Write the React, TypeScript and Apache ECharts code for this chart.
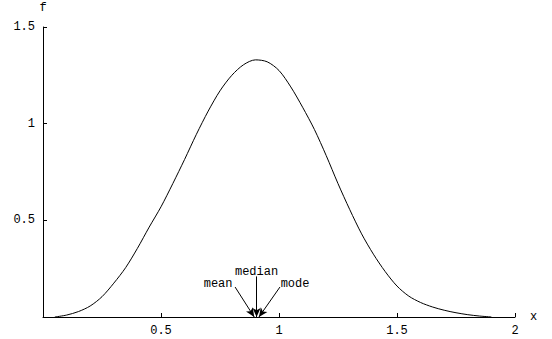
import React, { useEffect, useRef } from "react";
import * as echarts from "echarts";

const xs = [0.05, 0.1, 0.15, 0.2, 0.25, 0.3, 0.35, 0.4, 0.45, 0.5, 0.55, 0.6, 0.65, 0.7, 0.75, 0.8, 0.85, 0.9, 0.95, 1.0, 1.05, 1.1, 1.15, 1.2, 1.25, 1.3, 1.35, 1.4, 1.45, 1.5, 1.55, 1.6, 1.65, 1.7, 1.75, 1.8, 1.85, 1.9];
const fs = [0, 0.01, 0.028, 0.057, 0.105, 0.175, 0.255, 0.355, 0.465, 0.57, 0.69, 0.815, 0.945, 1.065, 1.17, 1.25, 1.305, 1.33, 1.32, 1.275, 1.19, 1.085, 0.97, 0.835, 0.69, 0.555, 0.43, 0.325, 0.235, 0.16, 0.108, 0.075, 0.052, 0.035, 0.022, 0.012, 0.005, 0];

const statNames = ["mean", "median", "mode"];
const statValues = [0.895, 0.905, 0.915];
// label anchor points (data coords) for each annotation
const labelX = [0.742, 0.905, 1.068];
const labelY = [0.17, 0.232, 0.17];
// arrow start points (data coords)
const arrowStartX = [0.814, 0.905, 1.004];
const arrowStartY = [0.155, 0.21, 0.155];

const xTicks = [0, 0.5, 1, 1.5, 2];
const yTicks = [0, 0.5, 1, 1.5];

const FONT = "'Liberation Mono', 'DejaVu Sans Mono', monospace";

export default function App() {
  const ref = useRef<HTMLDivElement>(null);
  useEffect(() => {
    const chart = echarts.init(ref.current!, null, { renderer: "svg" });
    const fmt = (v: number) => (v === 0 ? "" : String(v));
    chart.setOption({
      animation: false,
      backgroundColor: "#ffffff",
      grid: { left: 43, right: 37, top: 27, bottom: 22, containLabel: false },
      xAxis: {
        type: "value",
        min: xTicks[0],
        max: xTicks[xTicks.length - 1],
        interval: 0.5,
        name: "x",
        nameLocation: "end",
        nameGap: 15,
        nameTextStyle: { fontFamily: FONT, fontSize: 12, color: "#000", verticalAlign: "middle" },
        axisLine: { show: true, onZero: false, lineStyle: { color: "#000", width: 1 } },
        axisTick: { show: true, inside: true, length: 4, lineStyle: { color: "#000" } },
        axisLabel: { formatter: fmt, fontFamily: FONT, fontSize: 12, color: "#000", margin: 8 },
        splitLine: { show: false },
      },
      yAxis: {
        type: "value",
        min: yTicks[0],
        max: yTicks[yTicks.length - 1],
        interval: 0.5,
        name: "f",
        nameLocation: "end",
        nameGap: 13,
        nameTextStyle: { fontFamily: FONT, fontSize: 12, color: "#000", align: "center" },
        axisLine: { show: true, onZero: false, lineStyle: { color: "#000", width: 1 } },
        axisTick: { show: true, inside: true, length: 4, lineStyle: { color: "#000" } },
        axisLabel: { formatter: fmt, fontFamily: FONT, fontSize: 12, color: "#000", margin: 8 },
        splitLine: { show: false },
      },
      series: [
        {
          type: "line",
          data: xs.map((x, i) => [x, fs[i]]),
          smooth: 0.3,
          showSymbol: false,
          lineStyle: { color: "#000", width: 1 },
          markLine: {
            silent: true,
            symbol: ["none", "arrow"],
            symbolSize: [6, 9],
            label: { show: false },
            lineStyle: { color: "#000", width: 1, type: "solid" },
            data: statNames.map((n, i) => [
              { coord: [arrowStartX[i], arrowStartY[i]] },
              { coord: [statValues[i], 0] },
            ]),
          },
          markPoint: {
            silent: true,
            symbol: "circle",
            symbolSize: 0,
            label: {
              show: true,
              position: "inside",
              formatter: "{b}",
              fontFamily: FONT,
              fontSize: 12,
              color: "#000",
            },
            data: statNames.map((n, i) => ({ name: n, coord: [labelX[i], labelY[i]] })),
          },
        },
      ],
    });
    return () => chart.dispose();
  }, []);
  return (
    <div
      ref={ref}
      style={{ position: "absolute", left: 0, top: 0, width: 552, height: 339 }}
    />
  );
}
